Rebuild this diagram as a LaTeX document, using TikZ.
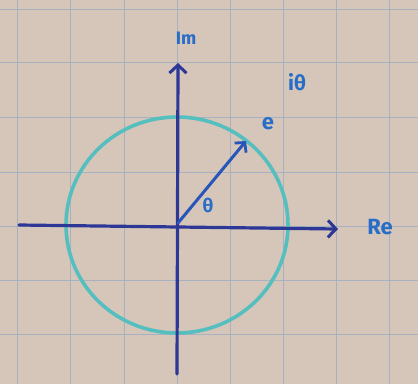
\documentclass[tikz,border=0pt]{standalone}
\usepackage{fontspec}
\setmainfont{Fira Sans}
\usetikzlibrary{arrows.meta}
\definecolor{paper}{RGB}{214,198,186}
\definecolor{gridc}{RGB}{150,172,195}
\definecolor{axisc}{RGB}{45,55,150}
\definecolor{circc}{RGB}{85,190,190}
\definecolor{vecc}{RGB}{40,85,185}
\definecolor{labc}{RGB}{40,110,200}
\tikzset{
  gridline/.style={gridc, line width=1pt, opacity=0.75},
  axis/.style={axisc, line width=3.2pt, line cap=round, -{Straight Barb[length=8pt,width=17pt,line width=3pt]}},
  unitcircle/.style={circc, line width=3.6pt},
  vector/.style={vecc, line width=3pt, line cap=round, -{Straight Barb[length=7pt,width=15pt,line width=2.8pt]}},
  lab/.style={labc, inner sep=0pt, font=\bfseries\fontsize{22}{22}\selectfont}
}
\begin{document}
\begin{tikzpicture}[x=1pt,y=-1pt]
\fill[paper] (0,0) rectangle (418,384);
\useasboundingbox (0,0) rectangle (418,384);
% grid
\foreach \x in {17,70,124,177,230,283,336,389} \draw[gridline] (\x,0) -- (\x,384);
\foreach \y in {9,62,117,172,226,280,334} \draw[gridline] (0,\y) -- (418,\y);
% circle
\coordinate (O) at (178,223);
\draw[unitcircle] (177,225) ellipse [x radius=111, y radius=108];
% axes
\coordinate (xs) at (19,225);
\coordinate (xe) at (338,229);
\coordinate (ys) at (177,374);
\coordinate (ye) at (178,63);
\draw[axis] (xs) -- (xe);
\draw[axis] (ys) -- (ye);
% vector
\coordinate (tip) at (246,141);
\draw[vector] (O) -- (tip);
% labels
\node[lab, font=\bfseries\fontsize{18}{18}\selectfont] (im) at (186,38) {Im};
\node[lab] (re) at (380,227) {Re};
\node[lab] (e) at (268,124) {e};
\node[lab, font=\bfseries\fontsize{21}{21}\selectfont] (itheta) at (297,82) {iθ};
\node[lab, font=\bfseries\fontsize{19}{19}\selectfont] (theta) at (208,205) {θ};
\end{tikzpicture}
\end{document}
